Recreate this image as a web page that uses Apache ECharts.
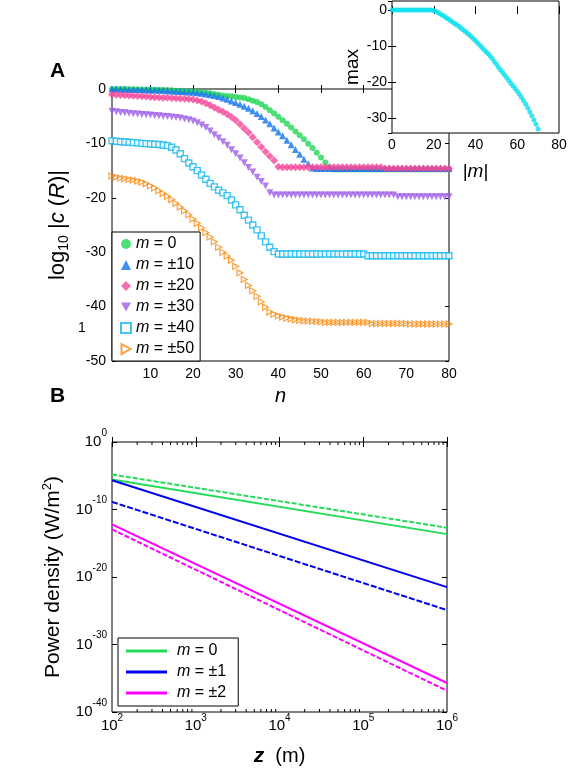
<!DOCTYPE html>
<html>
<head>
<meta charset="utf-8">
<script src="https://cdn.jsdelivr.net/npm/echarts@6.0.0/dist/echarts.min.js"></script>
<style>
  html, body { margin: 0; padding: 0; background: #fff; }
  #chart { width: 569px; height: 769px; }
</style>
</head>
<body>
<div id="chart"></div>
<script>
// ---- panel A : log10 |c(R)| against n (n = 1..80) ----
var mZero = [
  0, 0, 0, 0, -0.05, -0.05, -0.1, -0.1, -0.1, -0.1,
  -0.15, -0.15, -0.2, -0.2, -0.25, -0.3, -0.3, -0.35, -0.4, -0.45,
  -0.5, -0.6, -0.7, -0.8, -0.9, -1.05, -1.2, -1.29, -1.35, -1.45,
  -1.55, -1.65, -1.9, -2.15, -2.4, -2.8, -3.3, -3.9, -4.5, -5.1,
  -5.75, -6.4, -7.1, -7.8, -8.5, -9.25, -10.05, -10.85, -11.7, -12.6,
  -13.5, -14.4, -14.8, -14.8, -14.8, -14.8, -14.8, -14.8, -14.8, -14.8,
  -14.8, -14.8, -14.8, -14.8, -14.8, -14.8, -14.8, -14.8, -14.8, -14.8,
  -14.8, -14.8, -14.8, -14.8, -14.8, -14.8, -14.8, -14.8, -14.8, -14.8
];
var mTen = [
  0, 0, -0.05, -0.05, -0.1, -0.1, -0.1, -0.15, -0.15, -0.2,
  -0.2, -0.25, -0.25, -0.3, -0.35, -0.4, -0.45, -0.5, -0.55, -0.6,
  -0.7, -0.8, -0.9, -1.05, -1.2, -1.4, -1.65, -1.9, -2.2, -2.5,
  -2.8, -3.15, -3.55, -4.0, -4.5, -5.05, -5.7, -6.4, -7.15, -7.9,
  -8.6, -9.4, -10.25, -11.1, -12.0, -12.9, -13.75, -14.5, -14.6, -14.6,
  -14.6, -14.6, -14.6, -14.6, -14.6, -14.6, -14.6, -14.6, -14.6, -14.6,
  -14.6, -14.6, -14.6, -14.6, -14.6, -14.6, -14.6, -14.6, -14.6, -14.6,
  -14.6, -14.6, -14.6, -14.6, -14.6, -14.6, -14.6, -14.6, -14.6, -14.6
];
var mTwenty = [
  -1.0, -1.05, -1.1, -1.15, -1.2, -1.25, -1.3, -1.35, -1.4, -1.45,
  -1.5, -1.55, -1.6, -1.6, -1.65, -1.7, -1.75, -1.8, -1.85, -1.95,
  -2.1, -2.3, -2.6, -3.0, -3.4, -3.8, -4.2, -4.66, -5.15, -5.76,
  -6.5, -7.25, -8.0, -8.85, -9.8, -10.65, -11.55, -12.35, -13.15, -14.3,
  -14.4, -14.4, -14.4, -14.4, -14.4, -14.4, -14.4, -14.4, -14.4, -14.4,
  -14.4, -14.4, -14.4, -14.4, -14.4, -14.4, -14.4, -14.4, -14.4, -14.4,
  -14.4, -14.4, -14.4, -14.4, -14.6, -14.6, -14.6, -14.6, -14.6, -14.6,
  -14.6, -14.6, -14.6, -14.6, -14.6, -14.6, -14.6, -14.6, -14.6, -14.6
];
var mThirty = [
  -4.1, -4.2, -4.3, -4.35, -4.45, -4.55, -4.6, -4.7, -4.75, -4.8,
  -4.85, -4.9, -5.0, -5.05, -5.15, -5.25, -5.35, -5.5, -5.65, -5.9,
  -6.2, -6.6, -7.1, -7.7, -8.4, -9.0, -9.7, -10.35, -11.15, -11.9,
  -12.7, -13.55, -14.45, -15.25, -16.2, -17.0, -17.85, -19.05, -19.5, -19.5,
  -19.5, -19.5, -19.5, -19.5, -19.5, -19.5, -19.5, -19.5, -19.5, -19.5,
  -19.5, -19.5, -19.5, -19.5, -19.5, -19.5, -19.5, -19.5, -19.5, -19.5,
  -19.5, -19.5, -19.5, -19.5, -19.5, -19.5, -19.5, -19.8, -19.8, -19.8,
  -19.8, -19.8, -19.8, -19.8, -19.8, -19.8, -19.8, -19.8, -19.8, -19.8
];
var mForty = [
  -9.5, -9.6, -9.7, -9.75, -9.8, -9.85, -9.9, -10.0, -10.05, -10.1,
  -10.15, -10.2, -10.3, -10.4, -10.7, -11.2, -11.9, -12.8, -13.6, -14.3,
  -15.0, -15.8, -16.6, -17.35, -18.0, -18.6, -19.1, -19.6, -20.4, -21.3,
  -22.2, -23.2, -24.1, -25.0, -25.9, -27.0, -28.1, -29.1, -29.9, -30.33,
  -30.33, -30.33, -30.33, -30.33, -30.33, -30.33, -30.33, -30.33, -30.33, -30.33,
  -30.33, -30.33, -30.33, -30.33, -30.33, -30.33, -30.33, -30.33, -30.33, -30.33,
  -30.65, -30.65, -30.65, -30.65, -30.65, -30.65, -30.65, -30.65, -30.65, -30.65,
  -30.65, -30.65, -30.65, -30.65, -30.65, -30.65, -30.65, -30.65, -30.65, -30.65
];
var mFifty = [
  -16.0, -16.2, -16.35, -16.45, -16.6, -16.75, -16.9, -17.1, -17.4, -17.8,
  -18.2, -18.7, -19.2, -19.7, -20.3, -21.0, -21.7, -22.4, -23.1, -23.9,
  -24.7, -25.5, -26.4, -27.2, -28.1, -29.1, -30.0, -30.7, -31.5, -32.6,
  -33.8, -35.0, -36.1, -37.1, -38.1, -39.1, -40.1, -41.0, -41.4, -41.7,
  -41.9, -42.1, -42.25, -42.4, -42.5, -42.6, -42.65, -42.7, -42.75, -42.8,
  -42.9, -42.9, -42.9, -42.9, -42.9, -42.9, -42.9, -42.9, -42.9, -42.9,
  -42.9, -43.1, -43.1, -43.1, -43.1, -43.1, -43.1, -43.1, -43.1, -43.1,
  -43.2, -43.2, -43.2, -43.2, -43.2, -43.2, -43.2, -43.2, -43.2, -43.2
];

// inset: max against |m| (m = 0..70)
var insetMax = [
  0, 0, 0, 0, 0, 0, 0, 0, 0, 0,
  0, 0, 0, 0, 0, 0, 0, 0, 0, 0,
  -0.1, -0.35, -0.65, -1.0, -1.35, -1.7, -2.1, -2.5, -2.9, -3.3,
  -3.7, -4.1, -4.5, -5.0, -5.45, -5.9, -6.35, -6.85, -7.4, -7.95,
  -8.5, -9.1, -9.7, -10.3, -10.9, -11.5, -12.0, -12.7, -13.4, -14.2,
  -15.0, -15.8, -16.55, -17.3, -18.05, -18.8, -19.55, -20.3, -21.0, -21.7,
  -22.45, -23.3, -24.1, -25.0, -26.0, -27.0, -28.1, -29.2, -30.4, -31.6,
  -32.9
];

// ---- panel B : power density, log10 (W/m^2), at z = 1e2 and 1e6 m ----
var zB = [100, 1000000];
var pM0 = [-5.56, -13.65];
var pM0dash = [-4.82, -12.7];
var pM1 = [-5.67, -21.5];
var pM1dash = [-8.87, -24.9];
var pM2 = [-12.2, -35.7];
var pM2dash = [-12.95, -36.85];

var legendText = {
  m0: '{i|m} = 0', m10: '{i|m} = ±10', m20: '{i|m} = ±20',
  m30: '{i|m} = ±30', m40: '{i|m} = ±40', m50: '{i|m} = ±50',
  b0: '{i|m} = 0', b1: '{i|m} = ±1', b2: '{i|m} = ±2'
};

var FONT = 'Liberation Sans, Arial, sans-serif';
var TRI_DOWN = 'path://M0,0 L10,0 L5,9 Z';
var TRI_RIGHT = 'path://M0,0 L9,5 L0,10 Z';
var chart = echarts.init(document.getElementById('chart'));

function byN(arr) {
    return arr.map(function (v, i) { return [i + 1, v]; });
}
// panel B is drawn on decade axes (log10 of z and of power)
function byZ(arr) {
    return arr.map(function (e, i) { return [Math.log10(zB[i]), e]; });
}

var tickStyle = { inside: true, length: 4, lineStyle: { color: '#000', width: 1 } };
var labelStyle = { fontSize: 14, color: '#000', fontFamily: FONT };

function mirrorAxis(extra) {
    var a = {
        axisLine: { show: false },
        axisTick: tickStyle,
        axisLabel: { show: false },
        splitLine: { show: false }
    };
    return Object.assign(a, extra);
}

function powFormat(v) {
    return '{b|10}{s|' + v + '}';
}
var powLabelX = {
    formatter: powFormat,
    rich: {
        b: { fontSize: 15, fontFamily: FONT, color: '#000', lineHeight: 20, verticalAlign: 'bottom' },
        s: { fontSize: 10, fontFamily: FONT, color: '#000', lineHeight: 10, verticalAlign: 'top' }
    },
    margin: 1
};
var powLabelY = {
    formatter: powFormat,
    rich: {
        b: { fontSize: 15, fontFamily: FONT, color: '#000', lineHeight: 28, verticalAlign: 'middle' },
        s: { fontSize: 10, fontFamily: FONT, color: '#000', lineHeight: 10, verticalAlign: 'top' }
    },
    margin: 5
};

// log minor ticks on z axis (2..9 in each decade)
var decades = [100, 1000, 10000, 100000];
var minorZ = [];
decades.forEach(function (d) {
    [2, 3, 4, 5, 6, 7, 8, 9].forEach(function (k) { minorZ.push(k * d); });
});

var scatterBase = { type: 'scatter', xAxisIndex: 0, yAxisIndex: 0, symbolSize: 7 };
var richI = { i: { fontStyle: 'italic', fontSize: 16, fontFamily: FONT, color: '#000' } };
var tickB = Object.assign({}, tickStyle, { length: 5 });

var option = {
    animation: false,
    backgroundColor: '#fff',
    grid: [
        { left: 112, top: 89, width: 337, height: 272, show: true, borderColor: '#000', borderWidth: 1, backgroundColor: 'transparent', outerBoundsMode: 'none', containLabel: false },
        { left: 392, top: 1, width: 167, height: 132, show: true, borderColor: '#000', borderWidth: 1, backgroundColor: '#fff', z: 10, outerBoundsMode: 'none', containLabel: false },
        { left: 112, top: 442, width: 335, height: 270, show: true, borderColor: '#000', borderWidth: 1, backgroundColor: 'transparent', outerBoundsMode: 'none', containLabel: false }
    ],
    xAxis: [
        {
            gridIndex: 0, type: 'value', min: 1, max: 80, splitNumber: 8,
            axisLine: { show: false }, axisTick: tickStyle, splitLine: { show: false },
            axisLabel: Object.assign({ showMinLabel: false, margin: 6 }, labelStyle),
            name: 'n', nameLocation: 'middle', nameGap: 25,
            nameTextStyle: { fontSize: 20, fontStyle: 'italic', fontFamily: FONT, color: '#000' }
        },
        mirrorAxis({ gridIndex: 0, type: 'value', position: 'top', min: 1, max: 80, splitNumber: 8 }),
        {
            gridIndex: 1, type: 'value', min: 0, max: 80, interval: 20, z: 11,
            axisLine: { show: false }, axisTick: tickStyle, splitLine: { show: false },
            axisLabel: Object.assign({ margin: 5 }, labelStyle),
            name: '|{i|m}|', nameLocation: 'middle', nameGap: 29,
            nameTextStyle: {
                fontSize: 19, fontFamily: FONT, color: '#000',
                rich: { i: { fontStyle: 'italic', fontSize: 19, fontFamily: FONT, color: '#000' } }
            }
        },
        mirrorAxis({ gridIndex: 1, type: 'value', position: 'top', min: 0, max: 80, interval: 20, z: 11 }),
        {
            gridIndex: 2, type: 'value', min: 2, max: 6, interval: 1,
            axisLine: { show: false }, axisTick: tickB, splitLine: { show: false },
            axisLabel: powLabelX,
            name: '{z|z}  (m)', nameLocation: 'middle', nameGap: 34,
            nameTextStyle: {
                fontSize: 20, fontFamily: FONT, color: '#000',
                rich: { z: { fontStyle: 'italic', fontWeight: 'bold', fontSize: 21, fontFamily: FONT, color: '#000' } }
            }
        },
        mirrorAxis({ gridIndex: 2, type: 'value', position: 'top', min: 2, max: 6, interval: 1, axisTick: tickB })
    ],
    yAxis: [
        {
            gridIndex: 0, type: 'value', min: -50, max: 0, interval: 10,
            axisLine: { show: false }, axisTick: tickStyle, splitLine: { show: false },
            axisLabel: Object.assign({ margin: 6 }, labelStyle),
            name: 'log{sub|10} |{i|c} ({i|R})|', nameLocation: 'middle', nameGap: 41,
            nameTextStyle: {
                fontSize: 22, fontFamily: FONT, color: '#000', lineHeight: 26,
                rich: {
                    sub: { fontSize: 14, fontFamily: FONT, color: '#000', lineHeight: 14, verticalAlign: 'bottom' },
                    i: { fontStyle: 'italic', fontSize: 22, fontFamily: FONT, color: '#000', lineHeight: 26 }
                }
            }
        },
        mirrorAxis({ gridIndex: 0, type: 'value', position: 'right', min: -50, max: 0, interval: 10 }),
        {
            gridIndex: 1, type: 'value', min: -34, max: 2.5, splitNumber: 4, z: 11,
            axisLine: { show: false }, axisTick: tickStyle, splitLine: { show: false },
            axisLabel: Object.assign({ margin: 5, showMinLabel: false, showMaxLabel: false }, labelStyle),
            name: 'max', nameLocation: 'middle', nameGap: 30,
            nameTextStyle: { fontSize: 19, fontFamily: FONT, color: '#000' }
        },
        mirrorAxis({ gridIndex: 1, type: 'value', position: 'right', min: -34, max: 2.5, splitNumber: 4, z: 11 }),
        {
            gridIndex: 2, type: 'value', min: -40, max: 0, interval: 10,
            axisLine: { show: false }, axisTick: tickB, splitLine: { show: false },
            axisLabel: powLabelY,
            name: 'Power density (W/m{s|2})', nameLocation: 'middle', nameGap: 43,
            nameTextStyle: {
                fontSize: 21, fontFamily: FONT, color: '#000', lineHeight: 24,
                rich: { s: { fontSize: 13, fontFamily: FONT, color: '#000', lineHeight: 13, verticalAlign: 'top' } }
            }
        },
        mirrorAxis({ gridIndex: 2, type: 'value', position: 'right', min: -40, max: 0, interval: 10, axisTick: tickB })
    ],
    legend: [
        {
            data: ['m0', 'm10', 'm20', 'm30', 'm40', 'm50'],
            orient: 'vertical', left: 112, top: 232,
            padding: [3, 6, 3, 8], itemGap: 3, itemWidth: 10, itemHeight: 10,
            backgroundColor: '#fff', borderColor: '#000', borderWidth: 1, borderRadius: 0,
            selectedMode: false, z: 6,
            formatter: function (n) { return legendText[n]; },
            textStyle: { fontSize: 16, lineHeight: 18, fontFamily: FONT, color: '#000', rich: richI }
        },
        {
            data: ['b0', 'b1', 'b2'],
            orient: 'vertical', left: 118, top: 638,
            padding: [4, 12, 4, 8], itemGap: 3, itemWidth: 41, itemHeight: 3,
            icon: 'rect',
            backgroundColor: '#fff', borderColor: '#000', borderWidth: 1, borderRadius: 0,
            selectedMode: false, z: 6,
            formatter: function (n) { return legendText[n]; },
            textStyle: { fontSize: 16, lineHeight: 18, fontFamily: FONT, color: '#000', padding: [0, 0, 0, 5], rich: richI }
        }
    ],
    graphic: [
        { type: 'text', left: 50, top: 61, style: { text: 'A', fontSize: 21, fontWeight: 'bold', fontFamily: FONT, fill: '#000' } },
        { type: 'text', left: 50, top: 386, style: { text: 'B', fontSize: 21, fontWeight: 'bold', fontFamily: FONT, fill: '#000' } },
        { type: 'text', left: 78, top: 321, style: { text: '1', fontSize: 14, fontFamily: FONT, fill: '#000' } }
    ],
    series: [
        Object.assign({}, scatterBase, { name: 'm0', symbol: 'circle', symbolSize: 6, data: byN(mZero), itemStyle: { color: '#1fd655' } }),
        Object.assign({}, scatterBase, { name: 'm10', symbol: 'triangle', data: byN(mTen), itemStyle: { color: '#1273f0' } }),
        Object.assign({}, scatterBase, { name: 'm20', symbol: 'diamond', symbolSize: 8, data: byN(mTwenty), itemStyle: { color: '#f5479a' } }),
        Object.assign({}, scatterBase, { name: 'm30', symbol: TRI_DOWN, data: byN(mThirty), itemStyle: { color: '#9d5ee6' } }),
        Object.assign({}, scatterBase, { name: 'm40', symbol: 'rect', symbolSize: 6, data: byN(mForty), itemStyle: { color: '#fff', borderColor: '#12b5ec', borderWidth: 1.4 } }),
        Object.assign({}, scatterBase, { name: 'm50', symbol: TRI_RIGHT, symbolSize: 6, data: byN(mFifty), itemStyle: { color: 'rgba(255,255,255,0)', borderColor: '#f98b12', borderWidth: 1.2 } }),
        {
            name: 'inset', type: 'scatter', xAxisIndex: 2, yAxisIndex: 2, z: 12,
            symbol: 'circle', symbolSize: 5,
            data: insetMax.map(function (v, i) { return [i, v]; }),
            itemStyle: { color: '#0be0ee' }
        },
        { name: 'b0d', type: 'line', xAxisIndex: 4, yAxisIndex: 4, symbol: 'none', data: byZ(pM0dash), lineStyle: { color: '#22dd55', width: 2, type: [5, 2] } },
        { name: 'b0', type: 'line', xAxisIndex: 4, yAxisIndex: 4, symbol: 'none', data: byZ(pM0), lineStyle: { color: '#22dd55', width: 2 }, itemStyle: { color: '#22dd55' } },
        { name: 'b1d', type: 'line', xAxisIndex: 4, yAxisIndex: 4, symbol: 'none', data: byZ(pM1dash), lineStyle: { color: '#0000ee', width: 2, type: [6, 2] } },
        { name: 'b1', type: 'line', xAxisIndex: 4, yAxisIndex: 4, symbol: 'none', data: byZ(pM1), lineStyle: { color: '#0000ee', width: 2 }, itemStyle: { color: '#0000ee' } },
        { name: 'b2d', type: 'line', xAxisIndex: 4, yAxisIndex: 4, symbol: 'none', data: byZ(pM2dash), lineStyle: { color: '#ff00ff', width: 2, type: [5, 2] } },
        { name: 'b2', type: 'line', xAxisIndex: 4, yAxisIndex: 4, symbol: 'none', data: byZ(pM2), lineStyle: { color: '#ff00ff', width: 2 }, itemStyle: { color: '#ff00ff' } },
        {
            name: 'minorTicks', type: 'custom', xAxisIndex: 4, yAxisIndex: 4, silent: true, clip: false, z: 3,
            data: minorZ.map(function (v) { return [Math.log10(v), -20]; }),
            renderItem: function (params, api) {
                var v = api.value(0);
                var b = api.coord([v, -40]);
                var t = api.coord([v, 0]);
                return {
                    type: 'group',
                    children: [
                        { type: 'line', shape: { x1: b[0], y1: b[1], x2: b[0], y2: b[1] - 3 }, style: { stroke: '#000', lineWidth: 1 } },
                        { type: 'line', shape: { x1: t[0], y1: t[1], x2: t[0], y2: t[1] + 3 }, style: { stroke: '#000', lineWidth: 1 } }
                    ]
                };
            }
        }
    ]
};

option && chart.setOption(option);
</script>
</body>
</html>
